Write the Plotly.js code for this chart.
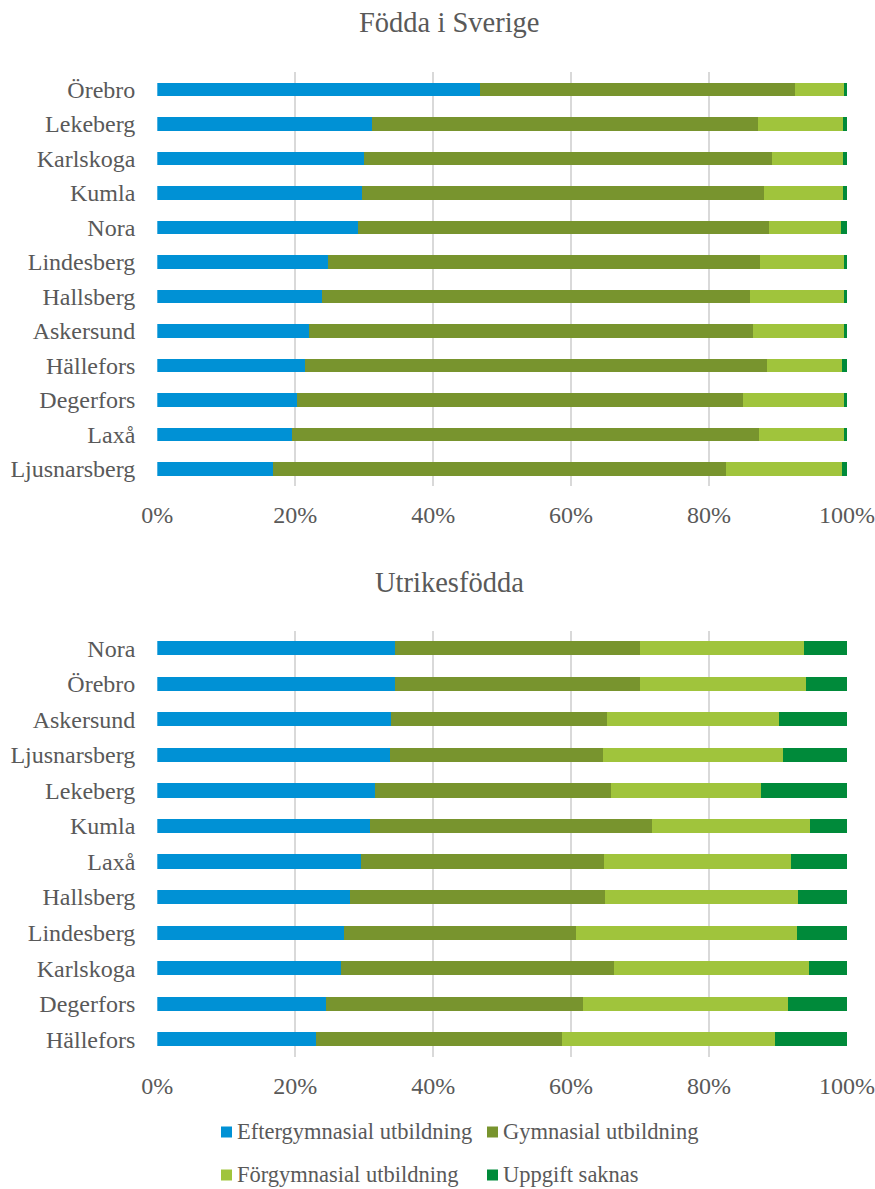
<!DOCTYPE html>
<html>
<head>
<meta charset="utf-8">
<script src="https://cdn.plot.ly/plotly-3.0.1.min.js"></script>
<style>html,body{margin:0;padding:0;background:#fff;}#chart{width:875px;height:1189px;}</style>
</head>
<body>
<div id="chart"></div>
<script>
// ---- Data (percent) ----
const seriesNames = ["Eftergymnasial utbildning", "Gymnasial utbildning", "Förgymnasial utbildning", "Uppgift saknas"];
const seriesColors = ["#0091D5", "#78942E", "#A0C43C", "#008A3A"];

// Födda i Sverige
const catsSwe = ["Örebro", "Lekeberg", "Karlskoga", "Kumla", "Nora", "Lindesberg", "Hallsberg", "Askersund", "Hällefors", "Degerfors", "Laxå", "Ljusnarsberg"];
const sweEfter = [46.8, 31.2, 30.0, 29.7, 29.1, 24.7, 23.9, 22.0, 21.4, 20.3, 19.6, 16.8];
const sweGym   = [45.6, 55.9, 59.1, 58.2, 59.6, 62.7, 62.0, 64.4, 67.0, 64.6, 67.6, 65.6];
const sweForg  = [7.1, 12.3, 10.3, 11.5, 10.5, 12.1, 13.6, 13.1, 10.9, 14.6, 12.3, 16.9];
const sweSakn  = [0.5, 0.6, 0.6, 0.6, 0.8, 0.5, 0.5, 0.5, 0.7, 0.5, 0.5, 0.7];

// Utrikesfödda
const catsUtr = ["Nora", "Örebro", "Askersund", "Ljusnarsberg", "Lekeberg", "Kumla", "Laxå", "Hallsberg", "Lindesberg", "Karlskoga", "Degerfors", "Hällefors"];
const utrEfter = [34.5, 34.4, 33.9, 33.8, 31.6, 30.9, 29.5, 28.0, 27.0, 26.6, 24.4, 23.0];
const utrGym   = [35.5, 35.6, 31.3, 30.8, 34.2, 40.9, 35.3, 36.9, 33.7, 39.6, 37.3, 35.7];
const utrForg  = [23.8, 24.0, 24.9, 26.1, 21.7, 22.8, 27.1, 28.0, 32.1, 28.3, 29.8, 30.9];
const utrSakn  = [6.2, 6.0, 9.9, 9.3, 12.5, 5.4, 8.1, 7.1, 7.2, 5.5, 8.5, 10.4];

const xTickVals = [0, 20, 40, 60, 80, 100];
const xTickText = ["0%", "20%", "40%", "60%", "80%", "100%"];

const titleTop = "Födda i Sverige";
const titleBottom = "Utrikesfödda";

// ---- Build ----
const W = 875, H = 1189;
const FONT = "Liberation Serif";
const TXT = "#595959";
const sweSeries = [sweEfter, sweGym, sweForg, sweSakn];
const utrSeries = [utrEfter, utrGym, utrForg, utrSakn];

const traces = [];
seriesNames.forEach((name, i) => {
  traces.push({
    type: "bar", orientation: "h", name: name,
    x: sweSeries[i], y: catsSwe, xaxis: "x", yaxis: "y",
    marker: {color: seriesColors[i], line: {width: 0}},
    showlegend: false, hoverinfo: "x+y+name"
  });
});
seriesNames.forEach((name, i) => {
  traces.push({
    type: "bar", orientation: "h", name: name,
    x: utrSeries[i], y: catsUtr, xaxis: "x2", yaxis: "y2",
    marker: {color: seriesColors[i], line: {width: 0}},
    showlegend: false, hoverinfo: "x+y+name"
  });
});

const px = v => v / W;
const py = v => 1 - v / H;

const xCommon = {
  range: [0, 100.05], tickvals: xTickVals, ticktext: xTickText,
  showgrid: true, gridcolor: "#D9D9D9", gridwidth: 1.5,
  zeroline: false, showline: false, ticks: "",
  ticklabelstandoff: 12, automargin: false, ticklabeloverflow: "allow",
  tickfont: {family: FONT, size: 24, color: TXT},
  domain: [px(157.3), px(847.3)], fixedrange: true
};
const yCommon = {
  showgrid: false, zeroline: false, showline: false, ticks: "",
  ticklabelstandoff: 21, automargin: false, autorange: "reversed",
  tickfont: {family: FONT, size: 24, color: TXT}, fixedrange: true
};

// Legend drawn as swatches + text (2 columns x 2 rows), in legend order
const legendCols = [221, 487];
const legendRows = [1132, 1175];
const legendShapes = [];
const legendTexts = [];
seriesNames.forEach((name, i) => {
  const cx = legendCols[i % 2], cy = legendRows[Math.floor(i / 2)];
  legendShapes.push({type: "rect", xref: "paper", yref: "paper",
    x0: px(cx), x1: px(cx + 11), y0: py(cy + 5.5), y1: py(cy - 5.5),
    fillcolor: seriesColors[i], line: {width: 0}});
  legendTexts.push({text: name, xref: "paper", yref: "paper", x: px(cx + 14), y: py(cy - 0.5),
    xanchor: "left", yanchor: "middle", showarrow: false,
    font: {family: FONT, size: 22.5, color: TXT}});
});

const layout = {
  width: W, height: H,
  margin: {l: 0, r: 0, t: 0, b: 0},
  paper_bgcolor: "#ffffff", plot_bgcolor: "#ffffff",
  barmode: "stack", bargap: 0.6,
  font: {family: FONT, color: TXT, size: 24},
  xaxis: Object.assign({}, xCommon, {anchor: "y"}),
  yaxis: Object.assign({}, yCommon, {anchor: "x", domain: [py(486.3), py(72.25)],
    categoryorder: "array", categoryarray: catsSwe}),
  xaxis2: Object.assign({}, xCommon, {anchor: "y2"}),
  yaxis2: Object.assign({}, yCommon, {anchor: "x2", domain: [py(1057), py(630.5)],
    categoryorder: "array", categoryarray: catsUtr}),
  shapes: legendShapes,
  annotations: [
    {text: titleTop, xref: "paper", yref: "paper", x: px(449), y: py(22), xanchor: "center", yanchor: "middle",
     showarrow: false, font: {family: FONT, size: 28.5, color: TXT}},
    {text: titleBottom, xref: "paper", yref: "paper", x: px(449), y: py(582), xanchor: "center", yanchor: "middle",
     showarrow: false, font: {family: FONT, size: 28.5, color: TXT}}
  ].concat(legendTexts),
  showlegend: false
};

Plotly.newPlot("chart", traces, layout, {displayModeBar: false, staticPlot: true});
</script>
</body>
</html>
